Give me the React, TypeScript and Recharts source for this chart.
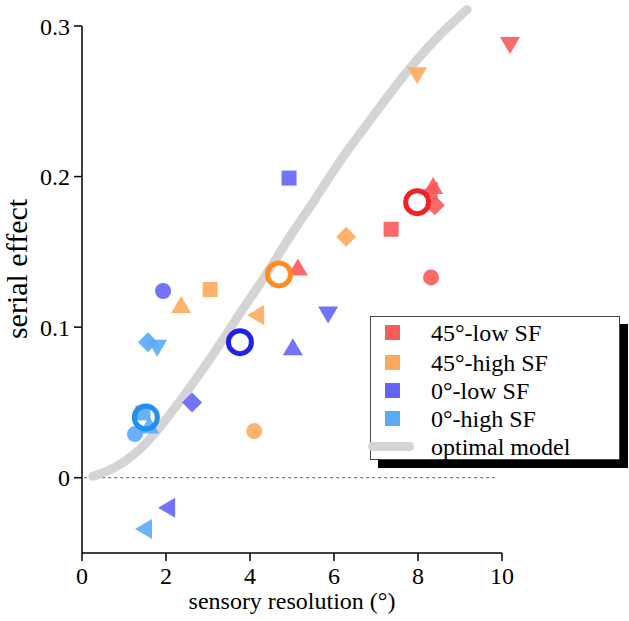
import { ComposedChart, XAxis, YAxis, Line, Scatter, ReferenceLine } from 'recharts';

const FONT = "'Liberation Serif', 'Times New Roman', serif";

const xTicks = [0, 2, 4, 6, 8, 10];
const yTicks = [0, 0.1, 0.2, 0.3];

type Pt = { x: number; y: number; m: string };

// individual observers / conditions
const red45Low: Pt[] = [
  { x: 10.19, y: 0.288, m: 'down' },
  { x: 8.36, y: 0.193, m: 'up' },
  { x: 8.3, y: 0.19, m: 'left' },
  { x: 8.4, y: 0.181, m: 'diamond' },
  { x: 7.36, y: 0.165, m: 'square' },
  { x: 8.31, y: 0.133, m: 'circle' },
  { x: 5.14, y: 0.139, m: 'up' },
];
const orange45High: Pt[] = [
  { x: 7.98, y: 0.268, m: 'down' },
  { x: 6.29, y: 0.16, m: 'diamond' },
  { x: 4.17, y: 0.108, m: 'left' },
  { x: 3.05, y: 0.125, m: 'square' },
  { x: 2.36, y: 0.114, m: 'up' },
  { x: 4.1, y: 0.031, m: 'circle' },
];
const blue0Low: Pt[] = [
  { x: 4.93, y: 0.199, m: 'square' },
  { x: 1.93, y: 0.124, m: 'circle' },
  { x: 5.86, y: 0.109, m: 'down' },
  { x: 5.02, y: 0.086, m: 'up' },
  { x: 2.62, y: 0.05, m: 'diamond' },
  { x: 2.05, y: -0.02, m: 'left' },
];
const cyan0High: Pt[] = [
  { x: 1.57, y: 0.09, m: 'diamond' },
  { x: 1.79, y: 0.087, m: 'down' },
  { x: 1.45, y: 0.043, m: 'square' },
  { x: 1.6, y: 0.034, m: 'up' },
  { x: 1.26, y: 0.029, m: 'circle' },
  { x: 1.5, y: -0.034, m: 'left' },
];

// group means
const redMean: Pt[] = [{ x: 7.98, y: 0.183, m: 'ring' }];
const orangeMean: Pt[] = [{ x: 4.69, y: 0.135, m: 'ring' }];
const blueMean: Pt[] = [{ x: 3.76, y: 0.09, m: 'ring' }];
const cyanMean: Pt[] = [{ x: 1.52, y: 0.04, m: 'ring' }];

// optimal model curve
const modelX = [0.26, 0.79, 1.38, 1.98, 2.57, 3.17, 3.76, 4.36, 4.95, 5.55, 6.14, 6.74, 7.33, 7.93, 8.52, 9.17];
const modelY = [0.001, 0.007, 0.019, 0.038, 0.06, 0.084, 0.109, 0.134, 0.16, 0.185, 0.21, 0.233, 0.255, 0.276, 0.294, 0.311];
const model = modelX.map((x, i) => ({ x, y: modelY[i] }));

const groups = [
  { name: '45°-low SF', pts: red45Low, mean: redMean, color: '#fa5a5a', meanColor: '#f02228' },
  { name: '45°-high SF', pts: orange45High, mean: orangeMean, color: '#ffaa5a', meanColor: '#ff8c1e' },
  { name: '0°-low SF', pts: blue0Low, mean: blueMean, color: '#6464fa', meanColor: '#2222e6' },
  { name: '0°-high SF', pts: cyan0High, mean: cyanMean, color: '#5aaafa', meanColor: '#2090f0' },
];

function Marker(props: any) {
  const { cx, cy, payload, color } = props;
  if (cx == null || cy == null) return null;
  const m = payload.m;
  const op = 0.9;
  switch (m) {
    case 'circle':
      return <circle cx={cx} cy={cy} r={8} fill={color} fillOpacity={op} />;
    case 'square':
      return <rect x={cx - 7.5} y={cy - 7.5} width={15} height={15} fill={color} fillOpacity={op} />;
    case 'up':
      return <polygon points={`${cx},${cy - 10} ${cx + 10},${cy + 7} ${cx - 10},${cy + 7}`} fill={color} fillOpacity={op} />;
    case 'down':
      return <polygon points={`${cx},${cy + 10} ${cx + 10},${cy - 7} ${cx - 10},${cy - 7}`} fill={color} fillOpacity={op} />;
    case 'left':
      return <polygon points={`${cx - 10},${cy} ${cx + 7},${cy - 10} ${cx + 7},${cy + 10}`} fill={color} fillOpacity={op} />;
    case 'diamond':
      return <polygon points={`${cx},${cy - 10} ${cx + 10},${cy} ${cx},${cy + 10} ${cx - 10},${cy}`} fill={color} fillOpacity={op} />;
    case 'ring':
      return <circle cx={cx} cy={cy} r={11.5} fill="none" stroke={color} strokeWidth={5} />;
    default:
      return null;
  }
}

function LegendBox() {
  const rows = [...groups.map((g) => ({ name: g.name, color: g.color, line: false })), { name: 'optimal model', color: '#d4d4d4', line: true }];
  const centers = [16, 46, 74, 102, 130];
  return (
    <div
      style={{
        position: 'absolute',
        left: 370,
        top: 316,
        width: 250,
        height: 144,
        border: '1px solid #444',
        background: '#fff',
        boxShadow: '8px 8px 0 #000',
        boxSizing: 'border-box',
        fontFamily: FONT,
        fontSize: 24,
      }}
    >
      {rows.map((r, i) => (
        <div key={r.name} style={{ position: 'absolute', left: 0, top: centers[i] - 14, height: 28, width: 250 }}>
          {r.line ? (
            <div style={{ position: 'absolute', left: -3, top: 9, width: 46, height: 9, borderRadius: 5, background: r.color }} />
          ) : (
            <div style={{ position: 'absolute', left: 14, top: 6, width: 15, height: 15, background: r.color }} />
          )}
          <span style={{ position: 'absolute', left: 60, top: 0, lineHeight: '28px', whiteSpace: 'nowrap' }}>{r.name}</span>
        </div>
      ))}
    </div>
  );
}

export default function App() {
  return (
    <div style={{ position: 'absolute', left: 0, top: 0, width: 629, height: 621, background: '#fff' }}>
      <ComposedChart width={629} height={621} margin={{ top: 4, right: 106, bottom: 18, left: 22 }}>
        <XAxis
          type="number"
          dataKey="x"
          domain={[0, 10.5]}
          ticks={xTicks}
          allowDataOverflow
          axisLine={false}
          tickSize={8}
          tickMargin={6}
          height={50}
          tickLine={{ stroke: '#000', strokeWidth: 1.5 }}
          tick={{ fill: '#000', fontSize: 24, fontFamily: FONT }}
          label={{
            value: 'sensory resolution (°)',
            content: () => (
              <text x={292} y={609} textAnchor="middle" fontSize={24} fontFamily={FONT} fill="#000">
                sensory resolution (°)
              </text>
            ),
          }}
        />
        <YAxis
          type="number"
          dataKey="y"
          domain={[-0.05, 0.3146]}
          ticks={yTicks}
          allowDataOverflow
          axisLine={false}
          tickSize={8}
          tickMargin={4}
          width={60}
          tickFormatter={(v: number) => (v === 0 ? '0' : String(v))}
          tickLine={{ stroke: '#000', strokeWidth: 1.5 }}
          tick={{ fill: '#000', fontSize: 24, fontFamily: FONT }}
          label={{
            value: 'serial effect',
            content: () => (
              <text x={27} y={269} transform="rotate(-90 27 269)" textAnchor="middle" fontSize={30} fontFamily={FONT} fill="#000">
                serial effect
              </text>
            ),
          }}
        />
        <ReferenceLine segment={[{ x: 0, y: -0.05 }, { x: 0, y: 0.3 }]} stroke="#000" strokeWidth={1.5} />
        <ReferenceLine segment={[{ x: 0, y: -0.05 }, { x: 10, y: -0.05 }]} stroke="#000" strokeWidth={1.5} />
        <ReferenceLine segment={[{ x: 0.05, y: 0 }, { x: 9.9, y: 0 }]} stroke="#333" strokeWidth={0.8} strokeDasharray="3 3" />
        <Line
          data={model}
          dataKey="y"
          type="natural"
          stroke="#d4d4d4"
          strokeWidth={9}
          strokeLinecap="round"
          dot={false}
          isAnimationActive={false}
        />
        {groups.map((g) => (
          <Scatter
            key={g.name}
            name={g.name}
            data={g.pts}
            dataKey="y"
            isAnimationActive={false}
            shape={(p: any) => <Marker {...p} color={g.color} />}
          />
        ))}
        {groups.map((g) => (
          <Scatter
            key={g.name + '-mean'}
            data={g.mean}
            dataKey="y"
            isAnimationActive={false}
            shape={(p: any) => <Marker {...p} color={g.meanColor} />}
          />
        ))}
      </ComposedChart>
      <LegendBox />
    </div>
  );
}
